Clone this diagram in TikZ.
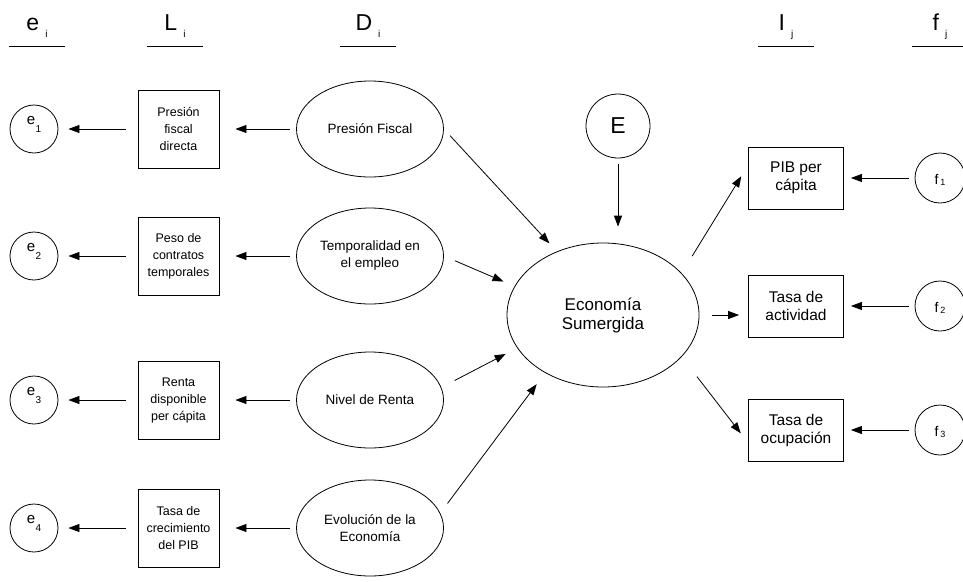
\documentclass[tikz,border=0pt]{standalone}
\usepackage{fontspec}
\setmainfont{Liberation Sans}
\usetikzlibrary{shapes.geometric,arrows.meta}

\newcommand{\hdrlab}[2]{{\fontsize{23}{23}\selectfont #1}\hspace{6pt}\raisebox{-7pt}{\fontsize{10}{10}\selectfont #2}}
\newcommand{\errlab}[2]{{\fontsize{15}{15}\selectfont #1}\hspace{0.5pt}\raisebox{-8pt}{\fontsize{10}{10}\selectfont #2}}
\newcommand{\flab}[2]{{\fontsize{14}{14}\selectfont #1}\hspace{2pt}\raisebox{-1pt}{\fontsize{9}{9}\selectfont #2}}

\tikzset{
  arr/.style={-{Stealth[inset=0pt,length=11pt,width=8pt]}},
  hdr/.style={minimum width=55pt, inner sep=0pt, anchor=base},
  errnode/.style={circle, draw, minimum size=48pt, inner sep=0pt, text height=3pt, text depth=13pt},
  fnode/.style={circle, draw, minimum size=50pt, inner sep=0pt, text height=12pt, text depth=0pt},
  obsbox/.style={draw, minimum width=81pt, minimum height=78pt, inner sep=0pt, align=center, font=\fontsize{12.5}{17}\selectfont},
  indbox/.style={draw, minimum width=95pt, minimum height=62pt, inner sep=0pt, align=center, font=\fontsize{15.5}{18}\selectfont},
  latent/.style={ellipse, draw, minimum width=147pt, minimum height=96pt, inner sep=0pt, align=center, font=\fontsize{13.5}{17}\selectfont},
}

\begin{document}
\begin{tikzpicture}[x=1pt, y=-1pt, line width=0.8pt]
  \useasboundingbox (0,0) rectangle (963,581);
  \clip (0,0) rectangle (963,581);

  % column headings
  \foreach \nm/\x/\a/\b in {he/37/e/i, hl/175/L/i, hd/368/D/i, hi/786/I/j, hf/940/f/j} {
    \node[hdr] (\nm) at (\x,30) {\hdrlab{\a}{\b}};
    \draw ([yshift=-16pt]\nm.base west) -- ([yshift=-16pt]\nm.base east);
  }

  % causes, indicators and errors
  \foreach \k/\y/\ltxt/\dtxt in {1/129/{Presión\\fiscal\\directa}/{Presión Fiscal},
      2/256/{Peso de\\contratos\\temporales}/{Temporalidad en\\el empleo},
      3/400/{Renta\\disponible\\per cápita}/{Nivel de Renta},
      4/528/{Tasa de\\crecimiento\\del PIB}/{Evolución de la\\Economía}} {
    \node[errnode] (e\k) at (34,\y) {\errlab{e}{\k}};
    \node[obsbox] (l\k) at (178.5,\y) {\ltxt};
    \node[latent] (d\k) at (370,\y) {\dtxt};
    \draw[arr, shorten <=12pt, shorten >=10pt] (l\k.west) -- (e\k.east);
    \draw[arr, shorten <=6pt, shorten >=16pt] (d\k.west) -- (l\k.east);
  }

  % latent variable
  \node[latent, minimum width=192pt, minimum height=144pt, font=\fontsize{17}{19}\selectfont] (es) at (603,315) {Economía\\Sumergida};
  \node[circle, draw, minimum size=64pt, inner sep=0pt, font=\fontsize{23}{23}\selectfont] (E) at (618,126) {E};

  % effects
  \foreach \k/\y/\txt in {1/178/{PIB per\\cápita}, 2/306/{Tasa de\\actividad}, 3/430/{Tasa de\\ocupación}} {
    \node[indbox] (i\k) at (796,\y) {\txt};
    \node[fnode] (f\k) at (940,\y) {\flab{f}{\k}};
    \draw[arr, shorten <=6pt, shorten >=7pt] (f\k.west) -- (i\k.east);
  }

  \draw[arr, shorten <=9pt, shorten >=11pt] (d1.east) -- (es.126);
  \draw[arr, shorten <=12pt, shorten >=12pt] (d2.east) -- (es.162);
  \draw[arr, shorten <=15pt, shorten >=13pt] (d3.10) -- (es.201);
  \draw[arr, shorten <=12pt, shorten >=14pt] (d4.12) -- (es.225);
  \draw[arr, shorten <=6pt, shorten >=16pt] (E.south) -- (E.south |- es.north);
  \draw[arr, shorten <=20pt, shorten >=13pt] (es.28) -- (i1.165);
  \draw[arr, shorten <=13pt, shorten >=9pt] (es.east) -- (es.east -| i2.west);
  \draw[arr, shorten <=25pt, shorten >=12pt] (es.-28) -- (i3.195);
\end{tikzpicture}
\end{document}
